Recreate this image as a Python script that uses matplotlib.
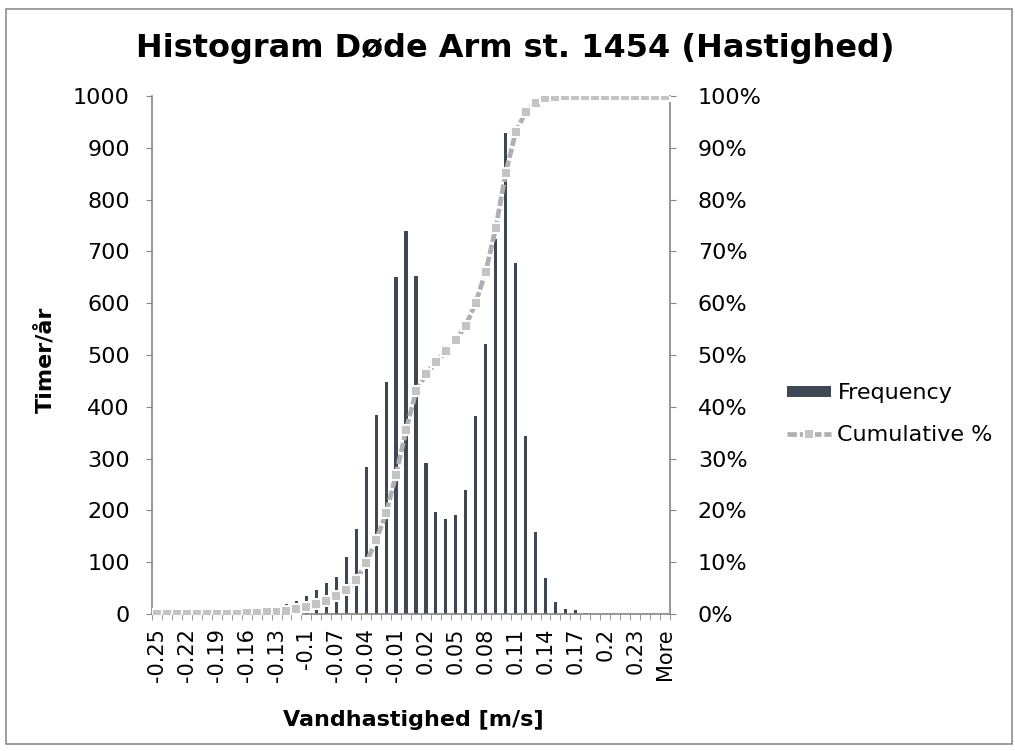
import numpy as np
import matplotlib
matplotlib.use("Agg")
import matplotlib.pyplot as plt
from matplotlib.patches import Rectangle
from matplotlib.ticker import FixedLocator, FuncFormatter

# Bin upper limits (m/s) and the overflow bin
bins = [f"{v:g}" for v in np.round(np.arange(-0.25, 0.2501, 0.01), 2)] + ["More"]

# Hours per year falling in each bin
frequency = [0, 0, 0, 0, 0, 1, 1, 2, 3, 4,
             6, 9, 13, 19, 26, 35, 46, 60, 71, 110,
             164, 284, 384, 448, 650, 739, 652, 292, 196, 184,
             191, 240, 383, 521, 723, 929, 678, 343, 158, 70,
             23, 9, 7, 1, 0, 0, 0, 0, 0, 0,
             0, 0]

title = "Histogram Døde Arm st. 1454 (Hastighed)"
xlabel = "Vandhastighed [m/s]"
ylabel = "Timer/år"

W, H = 1015, 751
fig = plt.figure(figsize=(W / 100, H / 100), dpi=100)
fig.patch.set_facecolor("white")

# outer chart border
fig.add_artist(Rectangle((6 / W, 1 - 744 / H), 1006 / W, 735 / H,
                         transform=fig.transFigure, fill=False,
                         edgecolor="#8c8c8c", linewidth=1.2))

ax = fig.add_axes([152 / W, 1 - 614 / H, 518 / W, 518 / H])
x = np.arange(len(bins))
freq = np.array(frequency, dtype=float)
cum = np.cumsum(freq) / freq.sum()

ax.bar(x, freq, width=0.32, color="#3e4855", label="Frequency", zorder=2)
ax.set_xlim(-0.5, len(bins) - 0.5)
ax.set_ylim(0, 1000)
ax.set_yticks(np.arange(0, 1001, 100))

ax2 = ax.twinx()
ax2.plot(x, cum, color="#b0b0b0", lw=3.4, ls=(0, (2.0, 0.6)),
         marker="s", ms=7, mfc="#c4c4c4", mec="white", mew=1.4,
         label="Cumulative %", zorder=3)
ax2.set_ylim(0, 1.0)
ax2.set_yticks(np.arange(0, 1.01, 0.1))
ax2.yaxis.set_major_formatter(FuncFormatter(lambda v, p: f"{v*100:.0f}%"))

axis_col = "#868686"
for a in (ax, ax2):
    a.spines["top"].set_visible(False)
    for s in ("left", "right", "bottom"):
        a.spines[s].set_color(axis_col)
        a.spines[s].set_linewidth(1.2)
ax2.spines["left"].set_visible(False)
ax2.spines["bottom"].set_visible(False)
ax.spines["right"].set_visible(False)

label_idx = list(range(0, len(bins), 3))
ax.xaxis.set_major_locator(FixedLocator(label_idx))
ax.set_xticklabels([bins[i] for i in label_idx], rotation=90, fontsize=15)
ax.xaxis.set_minor_locator(FixedLocator(np.arange(-0.5, len(bins), 1.0)))
ax.tick_params(axis="x", which="major", length=0, pad=10)
ax.tick_params(axis="x", which="minor", length=4, color=axis_col, direction="out")
ax.tick_params(axis="y", length=4, color=axis_col, labelsize=16, pad=12)
ax2.tick_params(axis="y", length=4, color=axis_col, labelsize=16, pad=16)

fig.text(413 / W, 1 - 720 / H, xlabel, ha="center", va="center",
         fontsize=16, fontweight="bold")
fig.text(45 / W, 1 - 360 / H, ylabel, ha="center", va="center",
         rotation=90, fontsize=16, fontweight="bold")
fig.text(515 / W, 1 - 48 / H, title, ha="center", va="center",
         fontsize=23, fontweight="bold")

h1, l1 = ax.get_legend_handles_labels()
h2, l2 = ax2.get_legend_handles_labels()
fig.legend(h1 + h2, l1 + l2, loc="center left",
           bbox_to_anchor=(787 / W, 1 - 414 / H), frameon=False,
           fontsize=16, handlelength=2.0, handletextpad=0.27,
           labelspacing=0.95, handleheight=0.4, borderpad=0,
           borderaxespad=0)

fig.savefig("out.png", dpi=100, facecolor="white")
